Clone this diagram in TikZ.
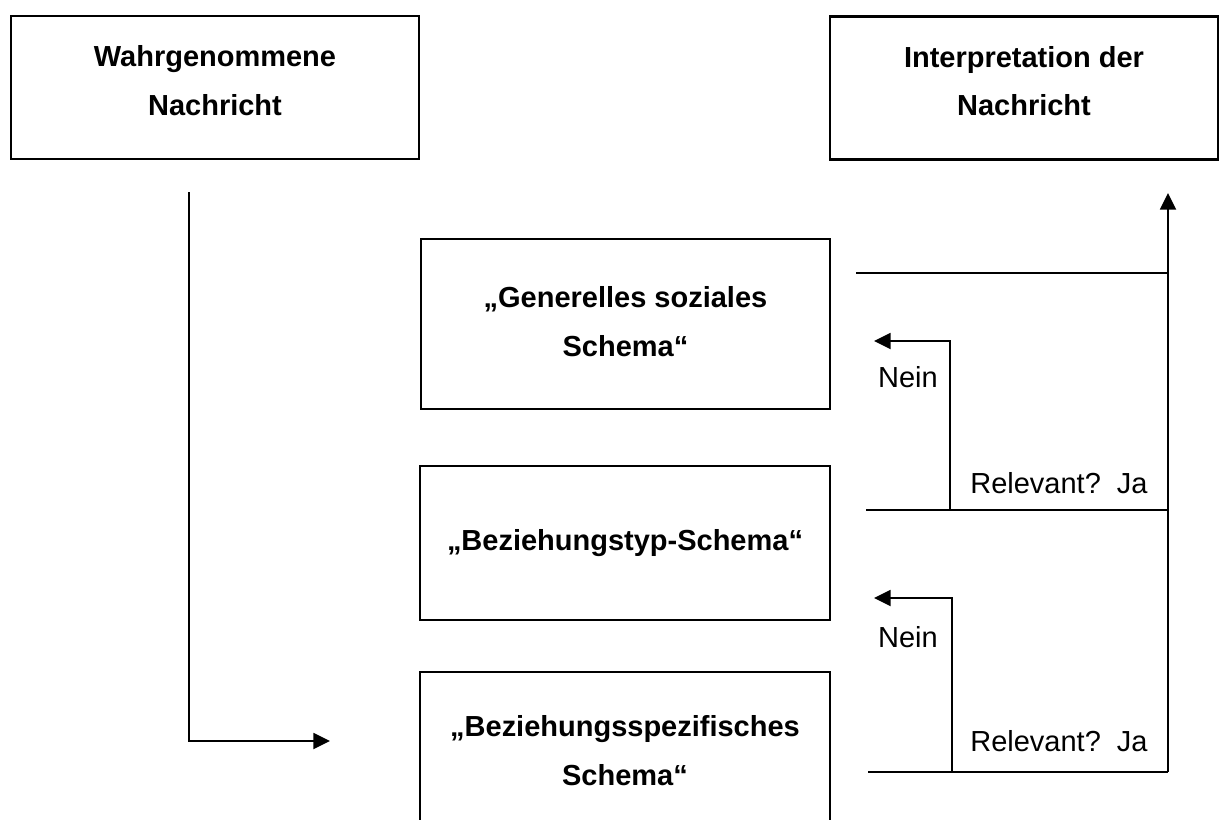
\documentclass[tikz,border=0pt]{standalone}
\usepackage{fontspec}
\setmainfont{Liberation Sans}
\usetikzlibrary{arrows.meta}

\begin{document}
\begin{tikzpicture}[x=0.02cm,y=-0.02cm]
\tikzset{
	kasten/.style={draw, line width=1.6pt, align=center, inner sep=0pt,
		font=\bfseries\fontsize{16.5}{27.8}\selectfont},
	linie/.style={line width=1.4pt},
	pfeil/.style={linie, -{Triangle[length=9.5pt,width=9pt]}},
	etikett/.style={inner sep=0pt, font=\fontsize{16.5}{20}\selectfont},
}
\useasboundingbox (0,0) rectangle (1228,819);
\clip (0,0) rectangle (1228,819);

 % die Kästen
  \node[kasten, text depth=8pt, minimum width=8.16cm, minimum height=2.86cm] (wahr) at (215,87.5) {Wahrgenommene\\Nachricht};
  \node[kasten, text depth=8pt, minimum width=7.76cm, minimum height=2.86cm] (interp) at (1024,88) {Interpretation der\\Nachricht};
  \node[kasten, text depth=3pt, minimum width=8.18cm, minimum height=3.4cm] (gen) at (625.5,324) {„Generelles soziales\\Schema“};
  \node[kasten, minimum width=8.2cm, minimum height=3.08cm] (typ) at (625,543) {„Beziehungstyp-Schema“};
  \node[kasten, minimum width=8.2cm, minimum height=3.16cm] (spez) at (625,751) {„Beziehungsspezifisches\\Schema“};

 % Weg links
  \coordinate (start) at (189,192);
  \coordinate (ziel) at (330,741);
  \draw[pfeil] (start) |- (ziel);

 % Weg rechts nach oben
  \coordinate (oben) at (1168,193);
  \coordinate (unten) at (1168,772);
  \draw[pfeil] (unten) -- (oben);
  \coordinate (g1) at (856,273);
  \draw[linie] (g1) -- (g1 -| oben);

 % Abfragen
  \coordinate (r1) at (866,510);
  \coordinate (k1) at (950,510);
  \coordinate (n1) at (874,341);
  \draw[linie] (r1) -- (r1 -| oben);
  \draw[pfeil] (k1) |- (n1);
  \coordinate (r2) at (868,772);
  \coordinate (k2) at (952,772);
  \coordinate (n2) at (874,598);
  \draw[linie] (r2) -- (unten);
  \draw[pfeil] (k2) |- (n2);

 % Beschriftung
  \node[etikett] (nein1) at (908,377) {Nein};
  \node[etikett] (nein2) at (908,637) {Nein};
  \node[etikett] (rel1) at (1059,483) {Relevant?\ \ Ja};
  \node[etikett] (rel2) at (1059,741) {Relevant?\ \ Ja};
\end{tikzpicture}
\end{document}
